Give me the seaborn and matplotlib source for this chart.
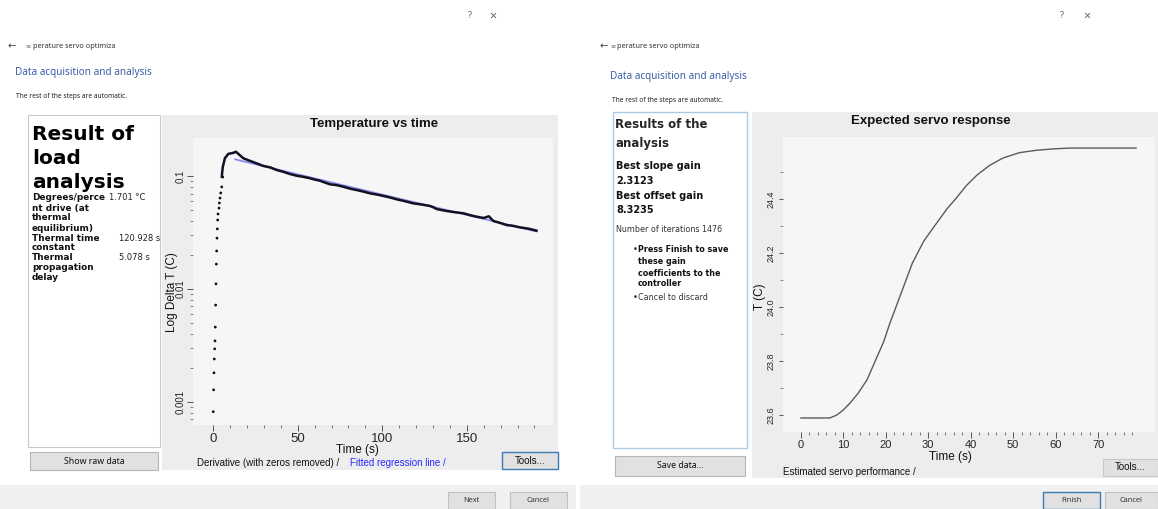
import matplotlib
matplotlib.use("Agg")
import matplotlib.pyplot as plt
import seaborn as sns
from matplotlib.patches import Rectangle
from matplotlib.ticker import FixedLocator, FixedFormatter, NullFormatter

# ---------------- data ----------------
# Left chart: derivative of temperature (log scale) vs time
early_t = [0.0, 0.2, 0.4, 0.6, 0.8, 1.0, 1.2, 1.4, 1.6, 1.8, 2.0, 2.2, 2.4, 2.6,
           2.8, 3.4, 3.6, 4.0, 4.4, 5.0, 5.6]
early_v = [0.00082, 0.00128, 0.00181, 0.0024, 0.00295, 0.00347, 0.0046, 0.0072,
           0.0111, 0.0166, 0.0217, 0.0282, 0.034, 0.0408, 0.0461, 0.052, 0.0577,
           0.0638, 0.0708, 0.080, 0.098]
decay_t = [5.0, 5.6, 6.9, 8.9, 11.7, 13.4, 17.8, 21.5, 25.7, 29.5, 33.6, 37.5, 41.4,
           45.5, 49.3, 53.0, 57.2, 60.0, 63.1, 66.0, 69.0, 73.0, 76.9, 81.0, 84.9,
           88.8, 92.7, 97.5, 102.6, 105.5, 108.5, 113.5, 118.3, 123.0, 128.2, 130.0,
           132.2, 135.0, 138.1, 143.0, 147.9, 152.0, 155.9, 160.0, 163.0, 165.7,
           169.5, 173.6, 177.5, 181.5, 186.5, 191.4]
decay_v = [0.098, 0.120, 0.144, 0.157, 0.160, 0.164, 0.1435, 0.1365, 0.1294, 0.1230,
           0.1193, 0.1130, 0.109, 0.1040, 0.1006, 0.0985, 0.0955, 0.0930, 0.0909,
           0.0875, 0.0845, 0.0830, 0.0804, 0.0772, 0.0751, 0.0728, 0.0703, 0.0682,
           0.0656, 0.0640, 0.0622, 0.0598, 0.0573, 0.0560, 0.0543, 0.0530, 0.0510,
           0.0500, 0.0490, 0.0478, 0.0468, 0.0450, 0.0436, 0.0425, 0.0440, 0.0400,
           0.0385, 0.0368, 0.0362, 0.0351, 0.0342, 0.0328]
fit_t = [12.8, 191.4]
fit_v = [0.1406, 0.0322]
left_xticks = [0, 50, 100, 150]
left_yticks = [0.001, 0.01, 0.1]
left_yticklabels = ["0.001", "0.01", "0.1"]

# Right chart: expected servo response
servo_t = [0.0, 6.9, 8.5, 10.0, 11.6, 13.5, 15.6, 19.5, 21.0, 26.3, 29.0, 32.0,
           34.5, 36.8, 39.0, 41.5, 44.5, 47.6, 51.5, 55.6, 59.5, 63.4, 79.0]
servo_T = [23.589, 23.589, 23.600, 23.618, 23.644, 23.680, 23.730, 23.870, 23.940,
           24.163, 24.245, 24.311, 24.365, 24.407, 24.450, 24.489, 24.525, 24.552,
           24.572, 24.581, 24.586, 24.589, 24.589]
right_xticks = [0, 10, 20, 30, 40, 50, 60, 70]
right_yticks = [23.6, 23.8, 24.0, 24.2, 24.4]

# ---------------- figure ----------------
sns.set_theme(style="white")
plt.rcParams['font.family'] = ['Liberation Sans', 'DejaVu Sans']

W, H = 1158, 509
fig = plt.figure(figsize=(W / 100, H / 100), dpi=100)
fig.patch.set_facecolor('white')


def fx(x):
    return x / W


def fy(y):
    return 1 - y / H


def rect(x0, y0, x1, y1, fc, ec='none', lw=0.8, z=-2):
    r = Rectangle((fx(x0), fy(y1)), (x1 - x0) / W, (y1 - y0) / H,
                  transform=fig.transFigure, facecolor=fc, edgecolor=ec,
                  linewidth=lw, zorder=z)
    fig.add_artist(r)


def txt(x, y, s, size=7, **kw):
    kw.setdefault('va', 'center')
    kw.setdefault('ha', 'left')
    fig.text(fx(x), fy(y), s, fontsize=size, **kw)


def add_ax(x0, y0, x1, y1):
    return fig.add_axes([fx(x0), fy(y1), (x1 - x0) / W, (y1 - y0) / H])


UI = ['Noto Sans', 'DejaVu Sans']
PANEL = ['DejaVu Sans']

# ---- backgrounds ----
rect(0, 485, 576, 509, '#f0f0f0')
rect(580, 485, 1158, 509, '#f0f0f0')
rect(162, 115, 558, 470, '#ededed')
rect(752, 112, 1158, 478, '#ededed')
rect(28, 115, 160, 447, 'white', ec='#c9c9c9', lw=0.8)
rect(613, 112, 747, 448, 'white', ec='#a9cbe8', lw=1.0)

# buttons
rect(30, 452, 158, 470, '#e1e1e1', ec='#b5b5b5')
rect(502, 452, 558, 469, '#e1e1e1', ec='#3d7ab8', lw=1.0)
rect(448, 492, 495, 509, '#e1e1e1', ec='#c0c0c0')
rect(510, 492, 567, 509, '#e1e1e1', ec='#c0c0c0')
rect(615, 456, 745, 476, '#e1e1e1', ec='#b5b5b5')
rect(1103, 459, 1158, 476, '#e1e1e1', ec='#c8c8c8')
rect(1043, 492, 1100, 509, '#e1e1e1', ec='#3d7ab8', lw=1.0)
rect(1105, 492, 1158, 509, '#e1e1e1', ec='#c0c0c0')

# ---- header texts ----
for qx, cx, ax_, ix, tx in [(468, 493, 8, 25, 33), (1060, 1087, 600, 610, 617)]:
    txt(qx, 16, "?", size=6.5, color='#666', family=UI)
    txt(cx, 16, "×", size=9, color='#666', family=UI, ha='center')
    txt(ax_, 47, "←", size=7, color='#444', family=UI)
    txt(ix, 46, "≡", size=4.5, color='#777', family=UI)
    txt(tx, 47, "perature servo optimiza", size=5.3, color='#333', family=UI)
txt(15, 73, "Data acquisition and analysis", size=7.2, color='#3a5ea8', family=UI)
txt(610, 77, "Data acquisition and analysis", size=7.2, color='#3a5ea8', family=UI)
txt(16, 97, "The rest of the steps are automatic.", size=4.8, color='#222', family=UI)
txt(612, 100, "The rest of the steps are automatic.", size=4.8, color='#222', family=UI)

# ---- left result panel ----
for yy, s in [(134, "Result of"), (158, "load"), (182, "analysis")]:
    txt(32, yy, s, size=14.5, weight='bold', family=PANEL, color='black')
left_lines = [(198, "Degrees/perce", "1.701 °C"), (208, "nt drive (at", None),
              (218, "thermal", None), (228, "equilibrium)", None),
              (238, "Thermal time", "120.928 s"), (248, "constant", None),
              (258, "Thermal", "5.078 s"), (268, "propagation", None),
              (278, "delay", None)]
for yy, s, v in left_lines:
    txt(32, yy, s, size=6.4, weight='bold', family=PANEL, color='#111')
    if v:
        txt(109 if v.startswith("1.") else 119, yy, v, size=6, family=PANEL, color='#222')

# ---- right result panel ----
txt(615, 125, "Results of the", size=8.5, weight='bold', family=PANEL)
txt(615, 143, "analysis", size=8.5, weight='bold', family=PANEL)
for yy, s in [(166, "Best slope gain"), (181, "2.3123"),
              (196, "Best offset gain"), (210, "8.3235")]:
    txt(616, yy, s, size=7, weight='bold', family=PANEL, color='#111')
txt(616, 230, "Number of iterations 1476", size=5.8, family=PANEL, color='#333')
txt(633, 249, "•", size=5.8, family=PANEL, color='#222')
for yy, s in [(249, "Press Finish to save"), (261, "these gain"),
              (273, "coefficients to the"), (284, "controller")]:
    txt(638, yy, s, size=5.8, weight='bold', family=PANEL, color='#111')
txt(633, 297, "•", size=5.8, family=PANEL, color='#222')
txt(638, 297, "Cancel to discard", size=5.8, family=PANEL, color='#333')

# ---- button labels ----
txt(94, 461, "Show raw data", size=6.3, ha='center', family=UI, color='#111')
txt(530, 461, "Tools...", size=7, ha='center', color='#111')
txt(471, 500, "Next", size=5.3, ha='center', family=UI, color='#333')
txt(538, 500, "Cancel", size=5.3, ha='center', family=UI, color='#333')
txt(680, 466, "Save data...", size=6.3, ha='center', family=UI, color='#111')
txt(1130, 467, "Tools...", size=7, ha='center', color='#111')
txt(1071, 500, "Finish", size=5.3, ha='center', family=UI, color='#333')
txt(1131, 500, "Cancel", size=5.3, ha='center', family=UI, color='#333')

# ---- chart titles and legends ----
txt(374, 124, "Temperature vs time", size=9.5, weight='bold', ha='center', color='#111')
txt(931, 121, "Expected servo response", size=9.5, weight='bold', ha='center', color='#111')
txt(197, 463, "Derivative (with zeros removed) / ", size=7, color='#111')
txt(350, 463, "Fitted regression line /", size=7, color='#2a2aff')
txt(783, 472, "Estimated servo performance /", size=7, color='#111')

# ---------------- left axes ----------------
ax1 = add_ax(193, 138, 553, 425)
ax1.set_facecolor('#f6f6f6')
ax1.set_yscale('log')
sns.scatterplot(x=early_t, y=early_v, ax=ax1, color='#111111', s=4,
                edgecolor='none', legend=False)
sns.lineplot(x=fit_t, y=fit_v, ax=ax1, color='#8c8cf0', lw=1.3,
             estimator=None, sort=False)
sns.lineplot(x=decay_t, y=decay_v, ax=ax1, color='#111122', lw=1.8,
             estimator=None, sort=False)
ax1.set_xlim(-12, 201)
ax1.set_ylim(0.000625, 0.217)
ax1.xaxis.set_major_locator(FixedLocator(left_xticks))
ax1.xaxis.set_minor_locator(FixedLocator(list(range(10, 200, 10))))
ax1.yaxis.set_major_locator(FixedLocator(left_yticks))
ax1.yaxis.set_major_formatter(FixedFormatter(left_yticklabels))
minor_y = [m * d for d in (0.0001, 0.001, 0.01) for m in range(2, 10)]
ax1.yaxis.set_minor_locator(FixedLocator(minor_y))
ax1.yaxis.set_minor_formatter(NullFormatter())
for s in ax1.spines.values():
    s.set_visible(False)
ax1.tick_params(axis='x', which='major', direction='out', length=4, width=0.7,
                color='#555', labelsize=9.5, pad=2, bottom=True)
ax1.tick_params(axis='x', which='minor', direction='out', length=2, width=0.7,
                color='#777', bottom=True)
ax1.tick_params(axis='y', which='major', direction='out', length=4, width=0.7,
                color='#555', labelsize=7, pad=1, left=True)
ax1.tick_params(axis='y', which='minor', direction='out', length=2, width=0.7,
                color='#888', left=True)
for lab in ax1.get_yticklabels():
    lab.set_rotation(90)
    lab.set_va('center')
ax1.set_xlabel("Time (s)", fontsize=8.5, color='#111')
ax1.xaxis.set_label_coords((357 - 193) / 360, (425 - 450) / 287)
ax1.xaxis.label.set_va('center')
ax1.set_ylabel("Log Delta T (C)", fontsize=8.5, color='#111')
ax1.yaxis.set_label_coords((172 - 193) / 360, (425 - 292) / 287)
ax1.yaxis.label.set_va('center')

# ---------------- right axes ----------------
ax2 = add_ax(783, 137, 1155, 432)
ax2.set_facecolor('#f6f6f6')
sns.lineplot(x=servo_t, y=servo_T, ax=ax2, color='#5a5a5a', lw=1.0,
             estimator=None, sort=False)
ax2.set_xlim(-4.16, 83.4)
ax2.set_ylim(23.537, 24.63)
ax2.xaxis.set_major_locator(FixedLocator(right_xticks))
ax2.xaxis.set_minor_locator(FixedLocator([t for t in range(2, 80, 2) if t % 10]))
ax2.yaxis.set_major_locator(FixedLocator(right_yticks))
ax2.yaxis.set_minor_locator(FixedLocator([23.7, 23.9, 24.1, 24.3, 24.5]))
ax2.yaxis.set_major_formatter(FixedFormatter([f"{v:.1f}" for v in right_yticks]))
for s in ax2.spines.values():
    s.set_visible(False)
ax2.tick_params(axis='x', which='major', direction='out', length=4, width=0.7,
                color='#555', labelsize=8, pad=2, bottom=True)
ax2.tick_params(axis='x', which='minor', direction='out', length=2, width=0.7,
                color='#777', bottom=True)
ax2.tick_params(axis='y', which='major', direction='out', length=3, width=0.7,
                color='#555', labelsize=6.5, pad=2, left=True)
ax2.tick_params(axis='y', which='minor', direction='out', length=2, width=0.7,
                color='#888', left=True)
for lab in ax2.get_yticklabels():
    lab.set_rotation(90)
    lab.set_va('center')
ax2.set_xlabel("Time (s)", fontsize=8.5, color='#111')
ax2.xaxis.set_label_coords((950 - 783) / 372, (432 - 457) / 295)
ax2.xaxis.label.set_va('center')
ax2.set_ylabel("T (C)", fontsize=8.5, color='#111')
ax2.yaxis.set_label_coords((760 - 783) / 372, (432 - 297) / 295)
ax2.yaxis.label.set_va('center')

fig.savefig("out.png", dpi=100, facecolor='white')
